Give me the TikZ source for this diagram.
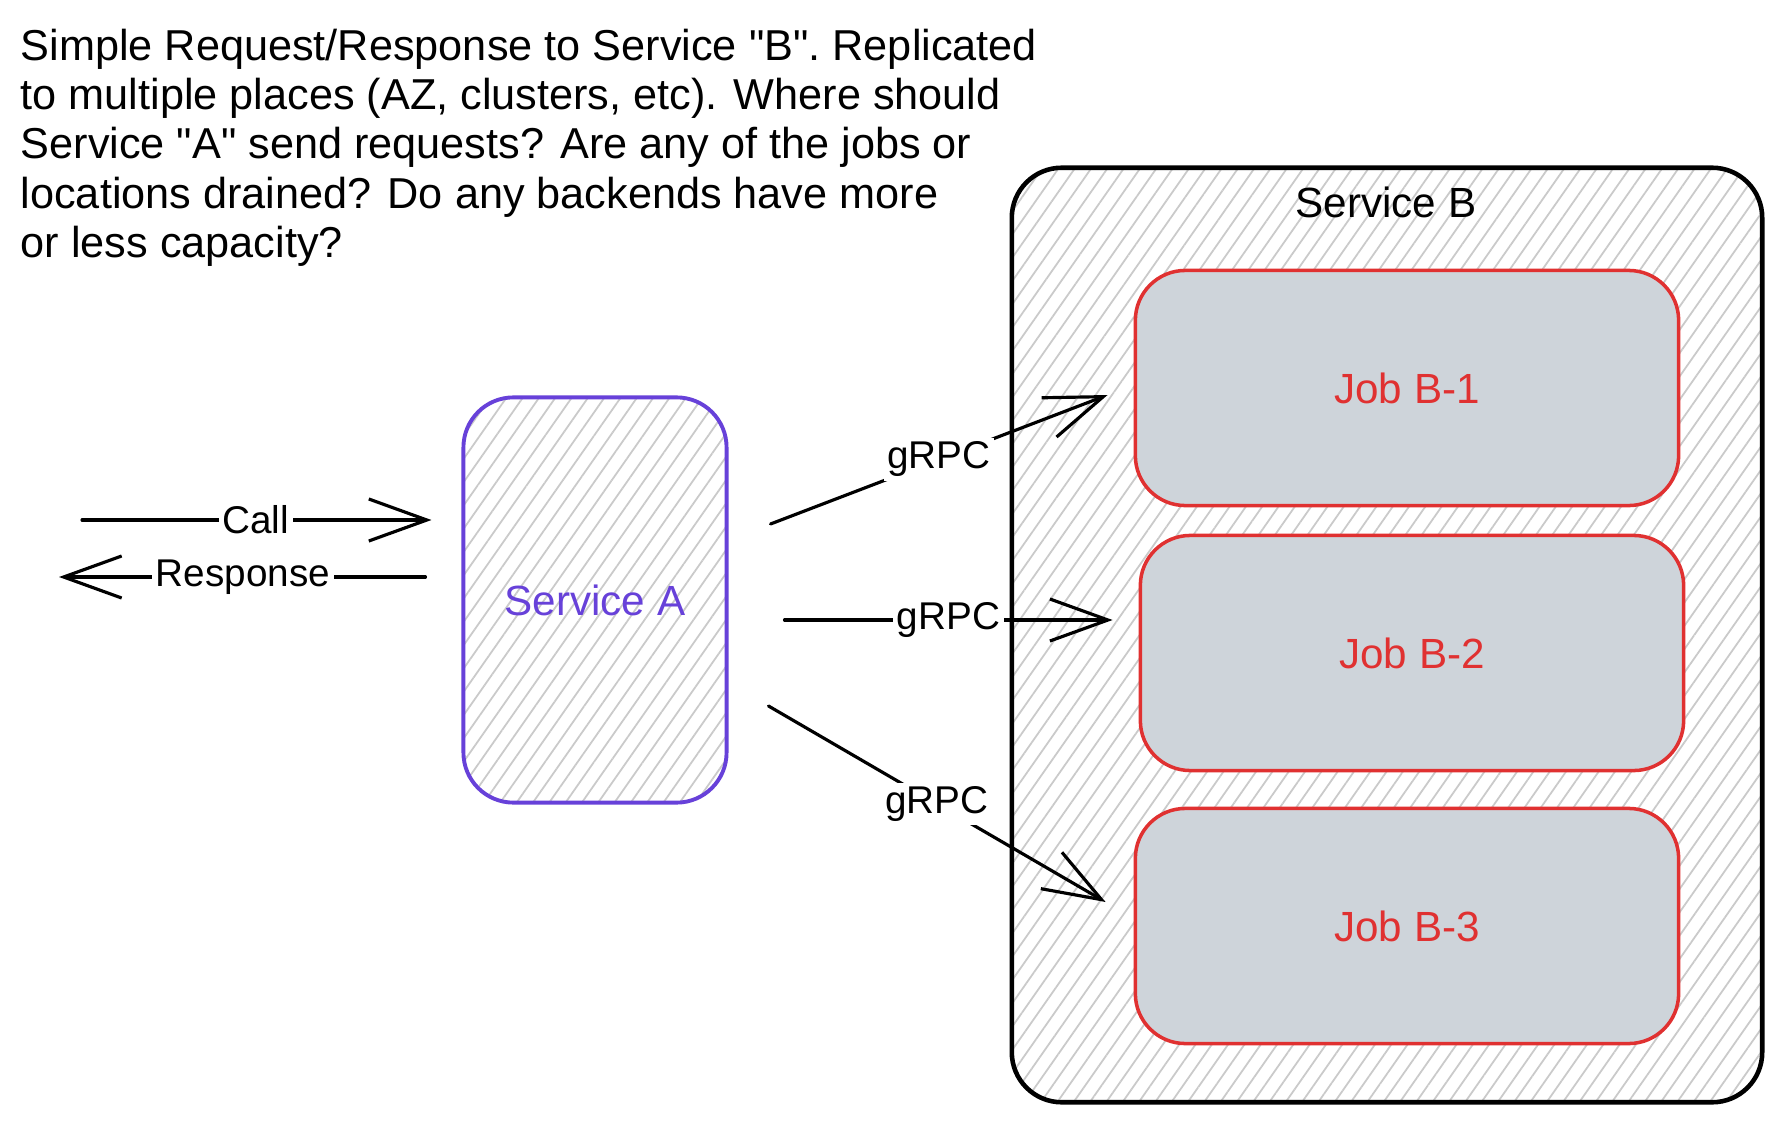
\documentclass[tikz,border=0pt]{standalone}
\usepackage{fontspec}
\setmainfont{Liberation Sans}
\usetikzlibrary{arrows.meta,patterns.meta,calc}
\definecolor{violetA}{HTML}{6741D9}
\definecolor{redB}{HTML}{E03131}
\definecolor{jobfill}{HTML}{CED4DA}
\definecolor{hatch}{HTML}{CACACA}

\begin{document}
\begin{tikzpicture}[x = .01cm, y = -.01cm,
  hatched/.style = {pattern = {Lines[angle = 55, distance = 3.8pt, line width = .5pt]}, pattern color = hatch},
  box/.style = {rounded corners = .5cm, inner sep = 0pt, font = \fontsize{12}{14}\selectfont},
  job/.style = {box, draw = redB, fill = jobfill, line width = 1pt, text = redB, minimum width = 5.43cm, minimum height = 2.35cm},
  lbl/.style = {fill = white, inner sep = 1pt, font = \fontsize{11}{13}\selectfont},
  flow/.style = {-{Straight Barb[length = .58cm, width = .42cm]}, line width = .9pt, line cap = round}]
\fill[white] (0, 0) rectangle (1781, 1121);
\useasboundingbox (0, 0) rectangle (1781, 1121);

\node[anchor = north west, inner sep = 0pt, align = left, font = \fontsize{12.3}{14.05}\selectfont] (note) at (20, 28)
  {Simple Request/Response to Service \textquotedbl B\textquotedbl. Replicated\\
   to multiple places (AZ, clusters, etc). Where should\\
   Service \textquotedbl A\textquotedbl{} send requests? Are any of the jobs or\\
   locations drained? Do any backends have more\\
   or less capacity?};

\node[box, draw, line width = 1.3pt, hatched, minimum width = 7.5cm, minimum height = 9.34cm] (srvB) at (1387, 635) {};
\node[font = \fontsize{12}{14}\selectfont] (srvBname) at (1386, 202) {Service B};

\node[job] (job1) at (1407, 388) {Job B-1};
\node[job] (job2) at (1412, 653) {Job B-2};
\node[job] (job3) at (1407, 926) {Job B-3};

\node[box, draw = violetA, hatched, line width = 1.1pt, text = violetA, minimum width = 2.63cm, minimum height = 4.05cm] (srvA) at (595, 600) {Service A};

\coordinate (callin) at (82, 520);
\coordinate (respout) at (59, 577);

\draw[flow, shorten >= .3cm] (callin) -- node[lbl, pos = .458] {Call} (callin -| srvA.west);
\draw[flow, shorten <= .36cm] (respout -| srvA.west) -- node[lbl, pos = .543] {Response} (respout);

\draw[flow] ($(srvA.east) + (42, -76)$) -- node[lbl] {gRPC} ($(job1.west) + (-26, 7)$);
\draw[flow] ($(srvA.east) + (56, 20)$) -- node[lbl] {gRPC} ($(job2.west) + (-26, -33)$);
\draw[flow] ($(srvA.east) + (40, 106)$) -- node[lbl] {gRPC} ($(job3.west) + (-28, -24)$);

\end{tikzpicture}
\end{document}
